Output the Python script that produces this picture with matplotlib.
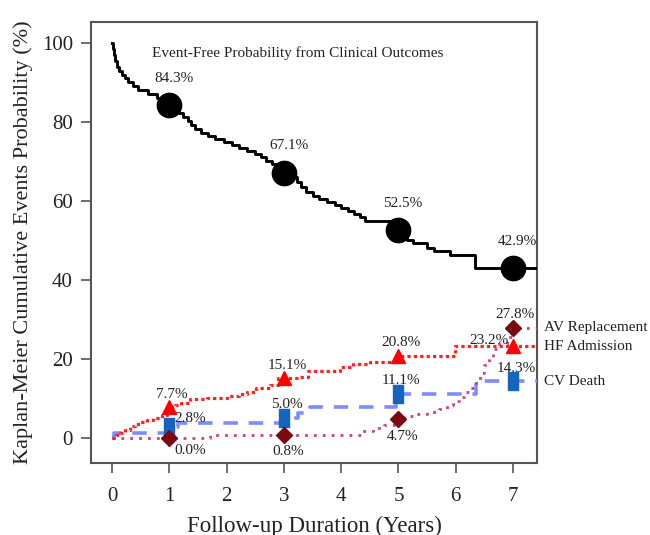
import matplotlib
matplotlib.use("Agg")
import matplotlib.pyplot as plt
import numpy as np
from matplotlib.path import Path

plt.rcParams['font.family'] = ['Liberation Serif', 'DejaVu Serif']

# === DATA ===
follow_up_end = 7.45

# event-free curve (step, value after each time)
ef_t = [0, 0.01, 0.03, 0.05, 0.08, 0.12, 0.17, 0.22, 0.28, 0.36, 0.45, 0.62, 0.78, 0.9,
        1.0, 1.08, 1.16, 1.24, 1.32, 1.38, 1.45, 1.55, 1.68, 1.8, 1.95, 2.1, 2.22, 2.36,
        2.5, 2.6, 2.68, 2.8, 2.92, 3.0, 3.12, 3.22, 3.3, 3.38, 3.5, 3.62, 3.76, 3.9, 4.0,
        4.12, 4.22, 4.32, 4.42, 4.92, 5.0, 5.08, 5.15, 5.25, 5.5, 5.62, 5.9, 6.33]
ef_v = [100, 98.5, 97, 95.5, 94, 93, 92, 91, 90, 89, 88, 87, 86, 85.2,
        84.3, 83.3, 82.3, 81.3, 80.3, 79.2, 78.2, 77.3, 76.5, 75.6, 74.8, 74.1, 73.4, 72.6,
        71.8, 71.0, 70.2, 69.4, 68.4, 67.1, 66.0, 64.8, 63.5, 62.3, 61.2, 60.5, 59.8, 59.0, 58.2,
        57.4, 56.6, 55.8, 55.0, 53.6, 52.5, 51.4, 50.2, 49.2, 48.0, 47.2, 46.3, 42.9]

# HF admission
hf_t = [0, 0.06, 0.14, 0.22, 0.31, 0.4, 0.49, 0.6, 0.72, 0.87, 0.95, 1.1, 1.2, 1.36, 1.65,
        2.0, 2.22, 2.35, 2.52, 2.76, 2.9, 3.28, 3.42, 3.98, 4.2, 4.5, 5.0, 5.99]
hf_v = [0, 0.6, 1.2, 2.0, 2.9, 3.5, 4.1, 4.6, 5.0, 5.8, 7.7, 8.3, 8.8, 9.8, 10.1,
        10.5, 11.0, 11.6, 12.6, 13.4, 15.1, 15.5, 16.8, 18.0, 18.7, 19.3, 20.8, 23.2]

# CV death
cv_t = [0, 0.04, 0.95, 1.15, 2.95, 3.25, 3.45, 4.95, 6.35]
cv_v = [0, 1.3, 2.8, 3.7, 5.0, 6.3, 7.9, 11.1, 14.3]

# AV replacement
av_t = [0, 1.7, 4.35, 4.55, 4.75, 4.92, 5.1, 5.3, 5.5, 5.7, 5.85, 5.95, 6.05, 6.15,
        6.25, 6.35, 6.42, 6.5, 6.58, 6.65, 6.75, 6.9, 7.0]
av_v = [0, 0.8, 1.6, 2.4, 3.3, 4.7, 5.4, 6.0, 6.6, 7.3, 8.2, 9.2, 10.4, 11.5,
        12.5, 14.5, 16.5, 18.5, 20.5, 22.5, 23.8, 25.5, 27.8]

landmark_years = [1, 3, 5, 7]
ef_marks = [84.3, 67.1, 52.5, 42.9]
hf_marks = [7.7, 15.1, 20.8, 23.2]
cv_marks = [2.8, 5.0, 11.1, 14.3]
av_marks = [0.0, 0.8, 4.7, 27.8]

series_names = ['AV Replacement', 'HF Admission', 'CV Death']


def ext(t, v):
    return list(t) + [follow_up_end], list(v) + [v[-1]]


rect = Path([(-0.3, -0.5), (0.3, -0.5), (0.3, 0.5), (-0.3, 0.5), (-0.3, -0.5)], closed=True)

fig = plt.figure(figsize=(6.5, 5.35), dpi=100)
ax = fig.add_axes([91 / 650, 1 - 463 / 535, (537 - 91) / 650, (463 - 22) / 535])

# curves
t, v = ext(ef_t, ef_v)
ax.step(t, v, where='post', color='black', lw=2.1, zorder=3)
t, v = ext(cv_t, cv_v)
ax.step(t, v, where='post', color='#7f8cff', lw=2.6, ls=(0, (4, 3)), zorder=3)
t, v = ext(av_t, av_v)
ax.step(t, v, where='post', color='#c8408a', lw=2.0, ls=(0, (1, 2.2)), zorder=3)
t, v = ext(hf_t, hf_v)
ax.step(t, v, where='post', color='#ff2020', lw=2.3, ls=(0, (1, 1)), zorder=3)

# markers
ax.plot(landmark_years, ef_marks, 'o', color='black', ms=17.5, zorder=5)
ax.plot(landmark_years, hf_marks, '^', color='#ff0000', ms=10, zorder=5)
ax.plot(landmark_years, cv_marks, marker=rect, ls='none', color='#1565c0', ms=13, zorder=5)
ax.plot(landmark_years, av_marks, 'D', color='#7a0a12', ms=8, zorder=5)

fs = 11
for x, y in zip(landmark_years, ef_marks):
    ax.text(x + 0.08, y + 6.8, f'{y}%', ha='center', va='center', fontsize=fs, color='#222222')

for i, (x, y) in enumerate(zip(landmark_years, hf_marks)):
    if i == 3:
        ax.text(x - 0.08, y + 1.5, f'{y}%', ha='right', va='center', fontsize=fs, color='#222222')
    else:
        ax.text(x + 0.05, y + 3.3, f'{y}%', ha='center', va='center', fontsize=fs, color='#222222')

for i, (x, y) in enumerate(zip(landmark_years, cv_marks)):
    if i == 0:
        ax.text(x + 0.08, y + 2.0, f'{y}%', ha='left', va='center', fontsize=fs, color='#222222')
    else:
        ax.text(x + 0.05, y + 3.3, f'{y}%', ha='center', va='center', fontsize=fs, color='#222222')

for i, (x, y) in enumerate(zip(landmark_years, av_marks)):
    if i == 0:
        ax.text(x + 0.08, y - 3.2, f'{y}%', ha='left', va='center', fontsize=fs, color='#222222')
    elif i == 3:
        ax.text(x + 0.03, y + 3.5, f'{y}%', ha='center', va='center', fontsize=fs, color='#222222')
    else:
        ax.text(x + 0.07, y - 4.3, f'{y}%', ha='center', va='center', fontsize=fs, color='#222222')

# series names on the right
for name, y in zip(series_names, [av_marks[-1], hf_v[-1], cv_v[-1]]):
    ax.text(1.015, y, name, transform=ax.get_yaxis_transform(), ha='left', va='center',
            fontsize=fs, color='#222222', clip_on=False)

ax.text(0.7, 97.5, 'Event-Free Probability from Clinical Outcomes', ha='left', va='center',
        fontsize=fs, color='#222222')

ax.set_xlim(-0.37, 7.42)
ax.set_ylim(-6.4, 105.3)
ax.set_xticks(range(0, 8))
ax.set_yticks([0, 20, 40, 60, 80, 100])
ax.tick_params(direction='out', length=7, width=1.2, color='#555555', labelsize=15,
               labelcolor='#222222', pad=6)
ax.tick_params(axis='x', pad=10)
for sp in ax.spines.values():
    sp.set_color('#555555')
    sp.set_linewidth(1.5)

ax.set_xlabel('Follow-up Duration (Years)', fontsize=16.5, color='#222222', labelpad=7)
ax.set_ylabel('Kaplan-Meier Cumulative Events Probability (%)', fontsize=16, color='#222222',
              labelpad=6)

fig.savefig('out.png', dpi=100)
